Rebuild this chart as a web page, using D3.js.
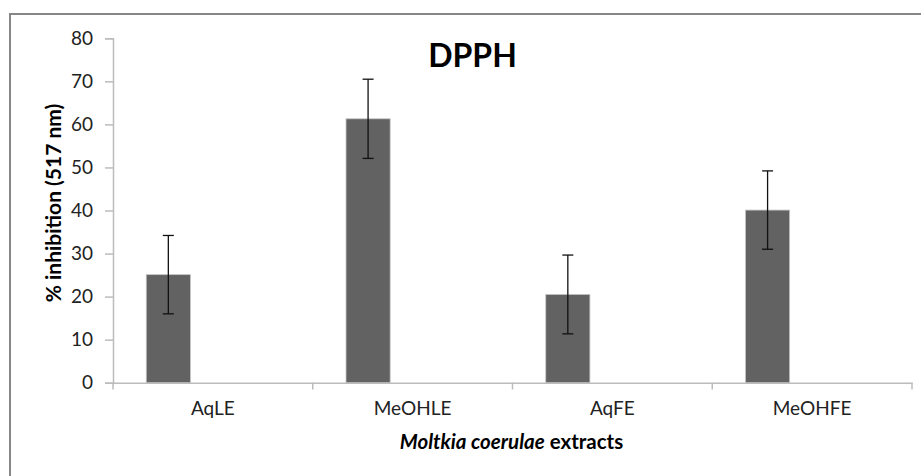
<!DOCTYPE html>
<html><head><meta charset="utf-8">
<script src="https://cdn.jsdelivr.net/npm/d3@7/dist/d3.min.js"></script>
<style>body{margin:0;background:#fff}svg{display:block}text{font-family:Lato,"Open Sans",sans-serif}</style>
</head><body>
<svg id="c" width="921" height="476"></svg>
<script>
const categories = ["AqLE", "MeOHLE", "AqFE", "MeOHFE"];
const values = [25.1, 61.3, 20.5, 40.1];
const errors = [9.1, 9.2, 9.15, 9.1];
const yTicks = [0, 10, 20, 30, 40, 50, 60, 70, 80];

const svg = d3.select("#c");
// outer chart frame (cut at right and bottom)
svg.append("path").attr("d", "M10,477 L10,14 L922,14").attr("fill", "none")
  .attr("stroke", "#878787").attr("stroke-width", 2);

const x = d3.scaleBand().domain(categories).range([113, 912]).padding(0);
const y = d3.scaleLinear().domain([0, 80]).range([382.7, 38.3]);
const axisColor = "#bcbcbc";

// Y axis
const ya = svg.append("g").attr("transform", "translate(113,0)")
  .call(d3.axisLeft(y).tickValues(yTicks).tickSize(8).tickPadding(12));
ya.select(".domain").attr("stroke", axisColor).attr("stroke-width", 1.5);
ya.selectAll(".tick line").attr("stroke", axisColor).attr("stroke-width", 1.5);
ya.selectAll(".tick text").attr("font-size", 19).attr("fill", "#222").attr("font-family", "Lato");

// X axis
const xa = svg.append("g").attr("transform", "translate(0,382.7)")
  .call(d3.axisBottom(x).tickSize(0).tickPadding(19));
xa.select(".domain").attr("stroke", axisColor).attr("stroke-width", 1.5);
xa.selectAll(".tick text").attr("font-size", 19).attr("fill", "#222").attr("font-family", "Lato");
// category boundary ticks
const bounds = categories.map(c => x(c)).concat([x.range()[1]]);
svg.append("g").selectAll("line").data(bounds).join("line")
  .attr("x1", d => d).attr("x2", d => d).attr("y1", 382.7).attr("y2", 389.5)
  .attr("stroke", axisColor).attr("stroke-width", 1.5);

// Bars
const bw = x.bandwidth();
svg.append("g").selectAll("rect").data(categories).join("rect")
  .attr("x", c => x(c) + bw * 0.1665)
  .attr("width", bw * 0.221)
  .attr("y", (c, i) => y(values[i]))
  .attr("height", (c, i) => y(0) - y(values[i]))
  .attr("fill", "#626262").attr("stroke", "#c4c4c4").attr("stroke-width", 0.8);

// Error bars
const eg = svg.append("g").attr("stroke", "#111").attr("stroke-width", 1.3);
categories.forEach((c, i) => {
  const cx = x(c) + bw * 0.1665 + bw * 0.221 / 2;
  const t = y(values[i] + errors[i]), b = y(values[i] - errors[i]);
  eg.append("line").attr("x1", cx).attr("x2", cx).attr("y1", t).attr("y2", b);
  eg.append("line").attr("x1", cx - 5.5).attr("x2", cx + 5.5).attr("y1", t).attr("y2", t);
  eg.append("line").attr("x1", cx - 5.5).attr("x2", cx + 5.5).attr("y1", b).attr("y2", b);
});

// Title
svg.append("text").attr("x", 472.5).attr("y", 67).attr("text-anchor", "middle")
  .attr("font-size", 32).attr("font-weight", "bold").attr("fill", "#000").text("DPPH");

// Y axis title
svg.append("text").attr("transform", "translate(61,203) rotate(-90)")
  .attr("text-anchor", "middle").attr("font-size", 21).attr("font-weight", "bold")
  .attr("fill", "#000").text("% inhibition (517 nm)");

// X axis title
const xt = svg.append("text").attr("x", 511.5).attr("y", 449).attr("text-anchor", "middle")
  .attr("font-size", 20.5).attr("font-weight", "bold").attr("fill", "#000");
xt.append("tspan").attr("font-style", "italic").text("Moltkia coerulae");
xt.append("tspan").text(" extracts");
</script>
</body></html>
